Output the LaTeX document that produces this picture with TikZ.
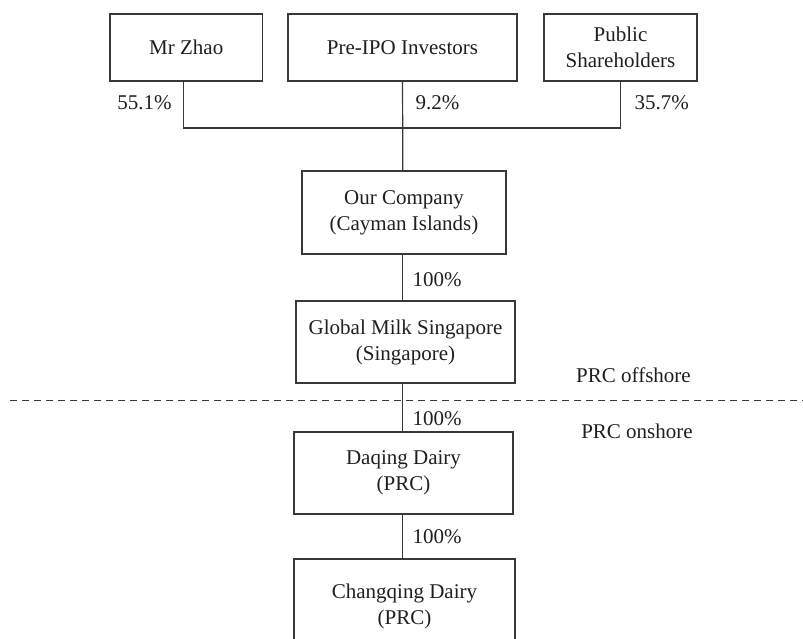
\documentclass[tikz,border=0pt]{standalone}
\usepackage{fontspec}
\setmainfont{Liberation Serif}
\begin{document}
\begin{tikzpicture}[x=1pt,y=-1pt,line width=1.2pt,draw=black!78,
    every node/.style={font=\fontsize{21}{26}\selectfont, text=black!88}]

      \useasboundingbox (0,0) rectangle (803,638);

      \begin{scope}[every node/.style={draw=black!78, line width=1.2pt, align=center, inner sep=0pt,
          font=\fontsize{21}{26}\selectfont, text=black!88, minimum height=82pt}]
        \node[minimum width=152.5pt, minimum height=67pt] (zhao)   at (186.25,47.5) {Mr Zhao};
        \node[minimum width=229pt,   minimum height=67pt] (preipo) at (402.5,47.5)  {Pre-IPO Investors};
        \node[minimum width=153pt,   minimum height=67pt] (public) at (620.5,47.5)  {Public\\Shareholders};
        \node[minimum width=204pt, minimum height=83pt] (ourco)     at (404,212.5) {Our Company\\(Cayman Islands)};
        \node[minimum width=219pt]                      (gms)       at (405.5,342) {Global Milk Singapore\\(Singapore)};
        \node[minimum width=219pt]                      (daqing)    at (403.5,473) {Daqing Dairy\\(PRC)};
        \node[minimum width=221pt, minimum height=94pt] (changqing) at (404.5,606) {Changqing Dairy\\(PRC)};
      \end{scope}

      \coordinate (bus)  at (402.7,128);
      \coordinate (divL) at (10,400);
      \coordinate (divR) at (803,400);

      % shareholders
      \draw ([xshift=-3pt]zhao.south) |- (bus) -| (public.south);
      \draw (preipo.south) -- (bus) -- (bus |- ourco.north);

      % subsidiaries
      \draw (bus |- ourco.south)  -- (bus |- gms.north);
      \draw (bus |- gms.south)    -- (bus |- daqing.north);
      \draw (bus |- daqing.south) -- (bus |- changqing.north);

      \draw[line width=1pt, dash pattern=on 7pt off 5pt] (divL) -- (divR);

      \begin{scope}[every node/.style={font=\fontsize{21}{26}\selectfont, text=black!88, inner sep=0pt}]
        \node (pzhao)   at (144.6,103) {55.1\%};
        \node (ppreipo) at (437.5,103) {9.2\%};
        \node (ppublic) at (661.8,103) {35.7\%};
        \node (p1)      at (437,280)   {100\%};
        \node (p2)      at (437,419)   {100\%};
        \node (p3)      at (437,537)   {100\%};
        \node (off)     at (633.5,375) {PRC offshore};
        \node (on)      at (637,431)   {PRC onshore};
      \end{scope}

    \end{tikzpicture}
\end{document}
